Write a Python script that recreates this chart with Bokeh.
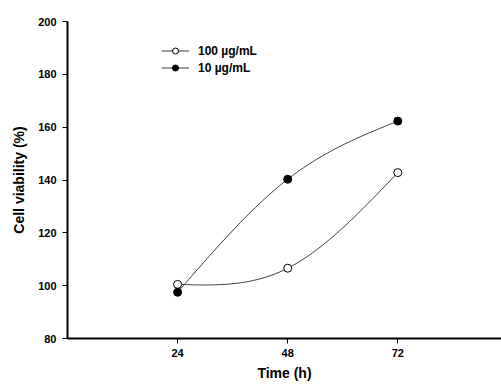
import numpy as np
from bokeh.plotting import figure
from bokeh.models import Range1d, FixedTicker, Legend, LegendItem
from bokeh.embed import file_html
from bokeh.resources import INLINE

# Data
time_h = [24, 48, 72]
viab_100 = [100.5, 106.6, 142.8]
viab_10 = [97.5, 140.3, 162.3]
x_ticks = [24, 48, 72]
y_ticks = [80, 100, 120, 140, 160, 180, 200]


def natural_spline(xs, ys, n=120):
    xs = np.asarray(xs, float)
    ys = np.asarray(ys, float)
    k = len(xs)
    h = np.diff(xs)
    A = np.zeros((k, k))
    b = np.zeros(k)
    A[0, 0] = 1
    A[-1, -1] = 1
    for i in range(1, k - 1):
        A[i, i - 1] = h[i - 1]
        A[i, i] = 2 * (h[i - 1] + h[i])
        A[i, i + 1] = h[i]
        b[i] = 6 * ((ys[i + 1] - ys[i]) / h[i] - (ys[i] - ys[i - 1]) / h[i - 1])
    M = np.linalg.solve(A, b)
    xx = np.linspace(xs[0], xs[-1], n)
    yy = np.empty_like(xx)
    for j, x in enumerate(xx):
        i = min(np.searchsorted(xs, x, side="right") - 1, k - 2)
        t1 = xs[i + 1] - x
        t0 = x - xs[i]
        hi = h[i]
        yy[j] = (M[i] * t1 ** 3 / (6 * hi) + M[i + 1] * t0 ** 3 / (6 * hi)
                 + (ys[i] / hi - M[i] * hi / 6) * t1
                 + (ys[i + 1] / hi - M[i + 1] * hi / 6) * t0)
    return xx, yy


FONT = "Liberation Sans"

p = figure(width=501, height=387, output_backend="svg", toolbar_location=None,
           x_range=Range1d(0, 94.6), y_range=Range1d(80, 200),
           min_border_left=67, min_border_right=0, min_border_top=21,
           min_border_bottom=49)
p.outline_line_color = None
p.xgrid.visible = False
p.ygrid.visible = False
p.background_fill_color = "white"
p.border_fill_color = "white"

for ax in (p.xaxis[0], p.yaxis[0]):
    ax.axis_line_width = 2
    ax.axis_line_color = "black"
    ax.major_tick_out = 5
    ax.major_tick_in = 0
    ax.minor_tick_out = 0
    ax.minor_tick_in = 0
    ax.major_tick_line_color = "black"
    ax.major_tick_line_width = 1
    ax.major_label_text_font = FONT
    ax.major_label_text_font_style = "bold"
    ax.major_label_text_font_size = "11px"
    ax.major_label_text_color = "black"
    ax.axis_label_text_font = FONT
    ax.axis_label_text_font_style = "bold"
    ax.axis_label_text_font_size = "14px"
    ax.axis_label_text_color = "black"

p.xaxis.ticker = FixedTicker(ticks=x_ticks)
p.yaxis.ticker = FixedTicker(ticks=y_ticks)
p.xaxis.axis_label = "Time (h)"
p.yaxis.axis_label = "Cell viability (%)"
p.xaxis.major_label_standoff = 5
p.yaxis.major_label_standoff = 6
p.xaxis.axis_label_standoff = 5
p.yaxis.axis_label_standoff = 8

sx1, sy1 = natural_spline(time_h, viab_100)
sx2, sy2 = natural_spline(time_h, viab_10)

l1 = p.line(sx1, sy1, line_color="#3a3a3a", line_width=1)
l2 = p.line(sx2, sy2, line_color="#3a3a3a", line_width=1)
c1 = p.scatter(time_h, viab_100, size=8, fill_color="white", line_color="black", line_width=1)
c2 = p.scatter(time_h, viab_10, size=8, fill_color="black", line_color="black", line_width=1)

legend = Legend(items=[LegendItem(label="100 \u00b5g/mL", renderers=[l1, c1]),
                       LegendItem(label="10 \u00b5g/mL", renderers=[l2, c2])],
                location=(94, 263))
legend.border_line_color = None
legend.background_fill_alpha = 0
legend.padding = 0
legend.margin = 0
legend.spacing = 2
legend.glyph_width = 28
legend.glyph_height = 15
legend.label_height = 15
legend.label_standoff = 9
legend.label_text_font = FONT
legend.label_text_font_style = "bold"
legend.label_text_font_size = "12px"
legend.label_text_color = "black"
p.add_layout(legend)

open("out.html", "w").write(file_html(p, INLINE))
